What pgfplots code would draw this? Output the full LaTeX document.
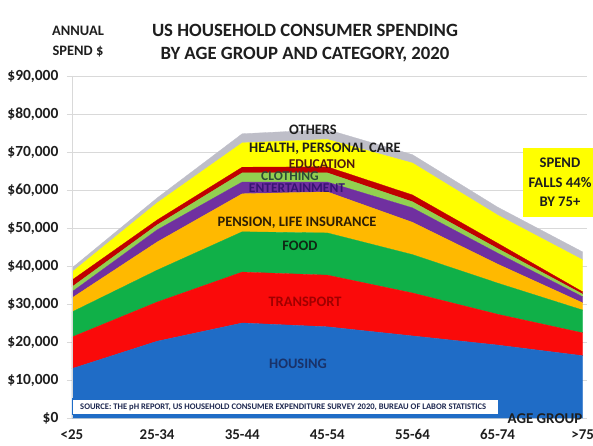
\documentclass[border=0pt]{standalone}
\usepackage{fontspec}
\setmainfont{Carlito}
\usepackage{pgfplots}
\usepackage{pgfplotstable}
\pgfplotsset{compat=1.18}

\definecolor{cHousing}{RGB}{31,108,198}
\definecolor{cTransport}{RGB}{250,10,10}
\definecolor{cFood}{RGB}{16,176,72}
\definecolor{cPension}{RGB}{255,185,0}
\definecolor{cEntertain}{RGB}{112,48,160}
\definecolor{cClothing}{RGB}{146,208,80}
\definecolor{cEducation}{RGB}{192,0,0}
\definecolor{cHealth}{RGB}{255,255,0}
\definecolor{cOthers}{RGB}{190,190,200}
\definecolor{cGrid}{RGB}{217,217,217}
\definecolor{tDark}{RGB}{30,30,30}
\definecolor{tEducation}{RGB}{80,25,15}
\definecolor{tClothing}{RGB}{45,75,55}
\definecolor{tEntertain}{RGB}{55,20,115}
\definecolor{tPension}{RGB}{45,30,5}
\definecolor{tFood}{RGB}{15,40,20}
\definecolor{tTransport}{RGB}{160,0,0}
\definecolor{tHousing}{RGB}{25,50,105}
\definecolor{tSource}{RGB}{30,40,80}

% annual spend per category, age groups at x = 0..6
\pgfplotstableread{
age housing transport food pension entertain clothing education health others
0 13000  8300  6600  3700 1600 1300 1800 2100 1100
1 20200 10300  8400  7400 3200 1300 1300 4500 1300
2 25000 13400 10600 10000 3100 2400 1500 6400 2400
3 24000 13600 11100 10800 2600 2400 1600 7200 2600
4 21600 11300 10100  8500 3800 1600 1800 8400 2200
5 19200  8100  8200  5000 2900 1200 1400 7400 2100
6 16400  6000  6000  1900 1600  700  600 8400 2100
}\spendtable

\begin{document}
\begin{tikzpicture}
\begin{axis}[
  scale only axis,
  width=520bp, height=342bp,
  xmin=-0.06, xmax=6.05,
  ymin=0, ymax=90000,
  stack plots=y,
  scaled y ticks=false,
  axis line style={draw=none},
  major tick length=0pt,
  ymajorgrids,
  grid style={cGrid, line width=0.8pt},
  ytick={0,10000,20000,30000,40000,50000,60000,70000,80000,90000},
  yticklabels={{\textbf{\$0}},{\textbf{\$10,000}},{\textbf{\$20,000}},{\textbf{\$30,000}},{\textbf{\$40,000}},{\textbf{\$50,000}},{\textbf{\$60,000}},{\textbf{\$70,000}},{\textbf{\$80,000}},{\textbf{\$90,000}}},
  yticklabel style={font=\fontsize{15.5}{15.5}\selectfont, text=tDark, xshift=-5bp},
  xtick={0,1,2,3,4,5,6},
  xticklabels={{\textbf{<25}},{\textbf{25-34}},{\textbf{35-44}},{\textbf{45-54}},{\textbf{55-64}},{\textbf{65-74}},{\textbf{>75}}},
  xticklabel style={font=\fontsize{15}{15}\selectfont, text=tDark, yshift=-8bp},
]
\addplot[fill=cHousing, draw=cHousing, line width=0.3pt] table[x=age,y=housing]{\spendtable} \closedcycle;
\addplot[fill=cTransport, draw=cTransport, line width=0.3pt] table[x=age,y=transport]{\spendtable} \closedcycle;
\addplot[fill=cFood, draw=cFood, line width=0.3pt] table[x=age,y=food]{\spendtable} \closedcycle;
\addplot[fill=cPension, draw=cPension, line width=0.3pt] table[x=age,y=pension]{\spendtable} \closedcycle;
\addplot[fill=cEntertain, draw=cEntertain, line width=0.3pt] table[x=age,y=entertain]{\spendtable} \closedcycle;
\addplot[fill=cClothing, draw=cClothing, line width=0.3pt] table[x=age,y=clothing]{\spendtable} \closedcycle;
\addplot[fill=cEducation, draw=cEducation, line width=0.3pt] table[x=age,y=education]{\spendtable} \closedcycle;
\addplot[fill=cHealth, draw=cHealth, line width=0.3pt] table[x=age,y=health]{\spendtable} \closedcycle;
\addplot[fill=cOthers, draw=cOthers, line width=0.3pt] table[x=age,y=others]{\spendtable} \closedcycle;
\coordinate (bl) at (rel axis cs:0,0);
\end{axis}

% annotations in image pixel coordinates (origin top left, y downward)
\begin{scope}[shift={(bl)}, x=1bp, y=-1bp, shift={(-66.9,-418)}]
\draw[cGrid, line width=0.8pt] (72,76) -- (72,418);

\begin{scope}[font=\fontsize{14.5}{14.5}\selectfont\bfseries]
\node[text=tDark] at (313,130) {OTHERS};
\node[text=tDark] at (325,149) {HEALTH, PERSONAL CARE};
\node[text=tPension] at (297,223) {PENSION, LIFE INSURANCE};
\node[text=tFood] at (300,246) {FOOD};
\node[text=tTransport] at (305,302) {TRANSPORT};
\node[text=tHousing] at (298,364) {HOUSING};
\end{scope}
\begin{scope}[font=\fontsize{13.5}{13.5}\selectfont\bfseries, inner sep=1pt]
\node[text=tEducation] at (322,164) {EDUCATION};
\node[text=tClothing] at (290,176) {CLOTHING};
\node[text=tEntertain] at (297,188) {ENTERTAINMENT};
\end{scope}

\node[font=\fontsize{18.8}{18.8}\selectfont\bfseries, text=tDark] at (305,30) {US HOUSEHOLD CONSUMER SPENDING};
\node[font=\fontsize{18.8}{18.8}\selectfont\bfseries, text=tDark] at (305,55) {BY AGE GROUP AND CATEGORY, 2020};
\node[font=\fontsize{14.5}{14.5}\selectfont\bfseries, text=tDark] at (78,31) {ANNUAL};
\node[font=\fontsize{14.5}{14.5}\selectfont\bfseries, text=tDark] at (78,52) {SPEND \$};
\node[font=\fontsize{15}{15}\selectfont\bfseries, text=tDark] at (545,419) {AGE GROUP};

\fill[cHealth] (523,148) rectangle (600,217);
\node[font=\fontsize{14.7}{14.7}\selectfont\bfseries, text=tDark] at (560,163) {SPEND};
\node[font=\fontsize{14.7}{14.7}\selectfont\bfseries, text=tDark] at (560,183) {FALLS 44\%};
\node[font=\fontsize{14.7}{14.7}\selectfont\bfseries, text=tDark] at (560,202) {BY 75+};

\begin{scope}
\clip (72,399) rectangle (499,415);
\fill[white] (72,399) rectangle (499,415);
\draw[cHousing, line width=1.2pt] (72,399) rectangle (499,415);
\node[anchor=west, font=\fontsize{8.6}{8.6}\selectfont\bfseries, text=tSource, inner sep=0pt]
  at (80,407) {SOURCE: THE pH REPORT, US HOUSEHOLD CONSUMER EXPENDITURE SURVEY 2020, BUREAU OF LABOR STATISTICS};
\end{scope}
\end{scope}

\pgfresetboundingbox
\path ([shift={(-66.9bp,-28bp)}]bl) rectangle ([shift={(526.1bp,418bp)}]bl);
\end{tikzpicture}
\end{document}
